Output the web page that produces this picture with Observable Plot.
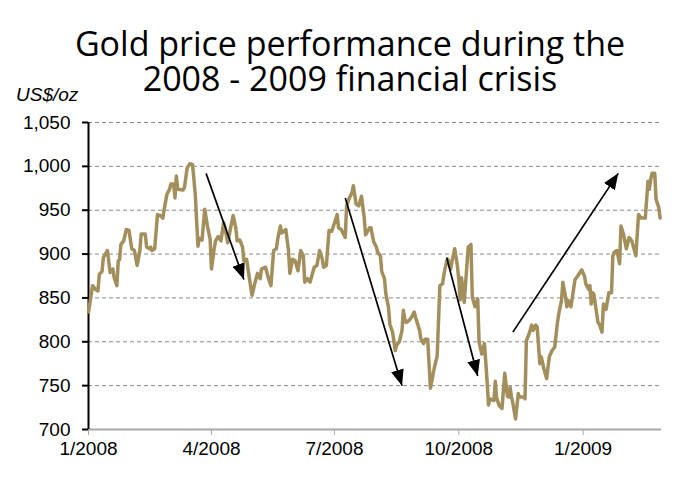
<!DOCTYPE html>
<html>
<head>
<meta charset="utf-8">
<script src="https://cdn.jsdelivr.net/npm/d3@7"></script>
<script src="https://cdn.jsdelivr.net/npm/@observablehq/plot@0.6"></script>
<style>
  html, body { margin: 0; padding: 0; background: #fff; }
  #wrap { position: relative; width: 700px; height: 487px; overflow: hidden; }
  .title { position: absolute; left: 0; width: 700px; height: 35px; text-align: center; white-space: nowrap;
           font-family: "Open Sans", "Noto Sans", sans-serif; font-weight: 500; font-size: 34px; line-height: 35px; color: #000; }
  #t1 { top: 26px; }
  #t2 { top: 61px; }
  #unit { position: absolute; left: 16px; top: 85px; font-family: "Liberation Sans", Arial, sans-serif;
          font-style: italic; font-size: 19px; line-height: 19px; color: #000; }
  #chart { position: absolute; left: 0; top: 100px; }
</style>
</head>
<body>
<div id="wrap">
  <div class="title" id="t1">Gold price performance during the</div>
  <div class="title" id="t2">2008 - 2009 financial crisis</div>
  <div id="unit">US$/oz</div>
  <div id="chart"></div>
</div>
<script>
const titleLines = ["Gold price performance during the", "2008 - 2009 financial crisis"];
const unitLabel = "US$/oz";

const dates = [
"2008-01-01","2008-01-04","2008-01-06","2008-01-08","2008-01-09","2008-01-11","2008-01-12","2008-01-15","2008-01-17","2008-01-19",
"2008-01-20","2008-01-22","2008-01-23","2008-01-24","2008-01-25","2008-01-27","2008-01-29","2008-01-31","2008-02-02","2008-02-04",
"2008-02-06","2008-02-08","2008-02-09","2008-02-12","2008-02-13","2008-02-15","2008-02-16","2008-02-17","2008-02-19","2008-02-21",
"2008-02-23","2008-02-25","2008-02-26","2008-02-28","2008-03-01","2008-03-02","2008-03-04","2008-03-05","2008-03-06","2008-03-07",
"2008-03-11","2008-03-12","2008-03-14","2008-03-16","2008-03-18","2008-03-20","2008-03-22","2008-03-23","2008-03-25","2008-03-27",
"2008-03-29","2008-03-31","2008-04-01","2008-04-03","2008-04-04","2008-04-06","2008-04-08","2008-04-10","2008-04-11","2008-04-13",
"2008-04-17","2008-04-19","2008-04-20","2008-04-22","2008-04-24","2008-04-25","2008-04-27","2008-04-29","2008-05-01","2008-05-03",
"2008-05-05","2008-05-07","2008-05-08","2008-05-11","2008-05-13","2008-05-15","2008-05-17","2008-05-19","2008-05-20","2008-05-22",
"2008-05-23","2008-05-26","2008-05-28","2008-05-29","2008-05-31","2008-06-02","2008-06-04","2008-06-06","2008-06-08","2008-06-09",
"2008-06-11","2008-06-13","2008-06-16","2008-06-18","2008-06-20","2008-06-22","2008-06-23","2008-06-25","2008-06-27","2008-06-29",
"2008-07-02","2008-07-03","2008-07-04","2008-07-06","2008-07-09","2008-07-10","2008-07-12","2008-07-14","2008-07-15","2008-07-17",
"2008-07-19","2008-07-21","2008-07-23","2008-07-24","2008-07-27","2008-07-28","2008-07-30","2008-08-01","2008-08-02","2008-08-04",
"2008-08-05","2008-08-07","2008-08-08","2008-08-10","2008-08-11","2008-08-13","2008-08-15","2008-08-16","2008-08-18","2008-08-20",
"2008-08-21","2008-08-22","2008-08-23","2008-08-25","2008-08-27","2008-08-29","2008-08-30","2008-09-02","2008-09-03","2008-09-05",
"2008-09-06","2008-09-08","2008-09-10","2008-09-13","2008-09-15","2008-09-17","2008-09-19","2008-09-20","2008-09-22","2008-09-23",
"2008-09-25","2008-09-26","2008-09-28","2008-09-30","2008-10-01","2008-10-02","2008-10-03","2008-10-05","2008-10-06","2008-10-08",
"2008-10-10","2008-10-11","2008-10-13","2008-10-15","2008-10-16","2008-10-18","2008-10-20","2008-10-22","2008-10-23","2008-10-24",
"2008-10-27","2008-10-28","2008-10-29","2008-10-31","2008-11-02","2008-11-04","2008-11-06","2008-11-07","2008-11-08","2008-11-09",
"2008-11-10","2008-11-12","2008-11-14","2008-11-15","2008-11-18","2008-11-19","2008-11-20","2008-11-22","2008-11-24","2008-11-25",
"2008-11-27","2008-11-28","2008-11-30","2008-12-01","2008-12-03","2008-12-05","2008-12-07","2008-12-09","2008-12-11","2008-12-13",
"2008-12-14","2008-12-16","2008-12-17","2008-12-19","2008-12-20","2008-12-21","2008-12-23","2008-12-26","2008-12-28","2008-12-30",
"2008-12-31","2009-01-02","2009-01-03","2009-01-05","2009-01-06","2009-01-07","2009-01-08","2009-01-09","2009-01-10","2009-01-12",
"2009-01-13","2009-01-15","2009-01-16","2009-01-18","2009-01-20","2009-01-22","2009-01-23","2009-01-24","2009-01-26","2009-01-28",
"2009-01-29","2009-01-31","2009-02-02","2009-02-04","2009-02-06","2009-02-08","2009-02-09","2009-02-11","2009-02-13","2009-02-16",
"2009-02-18","2009-02-19","2009-02-20","2009-02-21","2009-02-23","2009-02-24","2009-02-26","2009-02-27"
];
const prices = [
834,864,860,858,877,880,896,904,879,883,
873,864,892,894,911,915,928,927,906,904,
887,904,923,923,908,906,908,904,906,945,
944,941,951,968,974,980,980,964,989,974,
973,976,998,1003,1002,968,909,918,916,951,
932,917,883,906,915,920,915,936,930,913,
944,930,915,916,908,892,894,873,853,866,
878,872,883,885,873,864,904,906,917,932,
924,928,904,878,894,892,881,904,898,868,
872,868,885,887,904,894,885,887,927,926,
940,945,930,928,919,955,964,970,978,957,
955,966,942,922,930,930,914,908,902,898,
880,872,855,839,820,811,790,796,800,813,
836,826,822,824,828,834,828,813,803,798,
803,803,747,771,784,864,866,877,892,894,
883,892,906,886,871,848,873,845,866,908,
911,851,840,849,800,786,798,754,728,735,
733,755,736,727,724,764,738,737,748,737,
730,712,741,737,737,735,801,809,819,813,
819,817,775,783,769,758,783,790,794,822,
832,847,868,851,840,847,840,871,875,880,
882,875,866,860,864,843,856,854,843,822,
820,811,843,837,856,856,898,902,904,889,
932,922,906,919,915,904,898,945,941,941,
983,974,985,992,992,962,953,941
];

const yTicks = [700, 750, 800, 850, 900, 950, 1000, 1050];
const xTicks = ["2008-01-01", "2008-04-01", "2008-07-01", "2008-10-01", "2009-01-01"];
const xDomain = ["2008-01-01", "2009-02-28"];

// trend arrows (start date/value -> end date/value)
const arrowStartDates = ["2008-03-28", "2008-07-09", "2008-09-22", "2008-11-10"];
const arrowStartValues = [992, 964, 896, 811];
const arrowEndDates = ["2008-04-25", "2008-08-20", "2008-10-15", "2009-01-27"];
const arrowEndValues = [871, 750, 761, 992];

const series = dates.map((d, i) => ({date: new Date(d), price: prices[i]}));
const arrows = arrowStartDates.map((d, i) => ({
  x1: new Date(d), y1: arrowStartValues[i],
  x2: new Date(arrowEndDates[i]), y2: arrowEndValues[i]
}));
const fmtX = d => `${d.getUTCMonth() + 1}/${d.getUTCFullYear()}`;

const chart = Plot.plot({
  width: 700,
  height: 380,
  marginLeft: 88,
  marginRight: 39,
  marginTop: 22,
  marginBottom: 51,
  x: {type: "utc", domain: xDomain.map(d => new Date(d))},
  y: {domain: [700, 1050]},
  style: {fontFamily: "'Liberation Sans', Arial, sans-serif", fontSize: "19px", color: "#000", background: "transparent", overflow: "visible"},
  marks: [
    Plot.gridY(yTicks.filter(v => v > 700), {stroke: "#8a8a8a", strokeOpacity: 1, strokeWidth: 1, strokeDasharray: "4,3"}),
    Plot.ruleY([700], {stroke: "#a8a8a8", strokeWidth: 2}),
    Plot.axisX(xTicks.map(d => new Date(d)), {tickFormat: fmtX, tickSize: 6, tickPadding: 6, stroke: "#a8a8a8", color: "#000", label: null, fontSize: 19}),
    Plot.ruleX([new Date(xDomain[0])], {stroke: "#000", strokeWidth: 2}),
    Plot.axisY(yTicks, {tickFormat: d3.format(","), tickSize: 6, tickPadding: 12, strokeWidth: 2, stroke: "#000", label: null, fontSize: 19}),
    Plot.line(series, {x: "date", y: "price", stroke: "#a38f5c", strokeWidth: 3.5, strokeLinejoin: "round"}),
    Plot.link(arrows, {x1: "x1", y1: "y1", x2: "x2", y2: "y2", stroke: "#000", strokeWidth: 1.7})
  ]
});

// filled arrowheads on the trend links
const svg = d3.select(chart.tagName.toLowerCase() === "svg" ? chart : chart.querySelector("svg"));
const defs = svg.insert("defs", ":first-child");
defs.append("marker")
  .attr("id", "filled-arrowhead")
  .attr("viewBox", "0 0 16 13")
  .attr("refX", 16).attr("refY", 6.5)
  .attr("markerWidth", 16).attr("markerHeight", 13)
  .attr("markerUnits", "userSpaceOnUse")
  .attr("orient", "auto")
  .append("path").attr("d", "M0,0L16,6.5L0,13Z").attr("fill", "#000");
svg.selectAll('g[aria-label="link"] > *').attr("marker-end", "url(#filled-arrowhead)");

document.getElementById("chart").appendChild(chart);
</script>
</body>
</html>
